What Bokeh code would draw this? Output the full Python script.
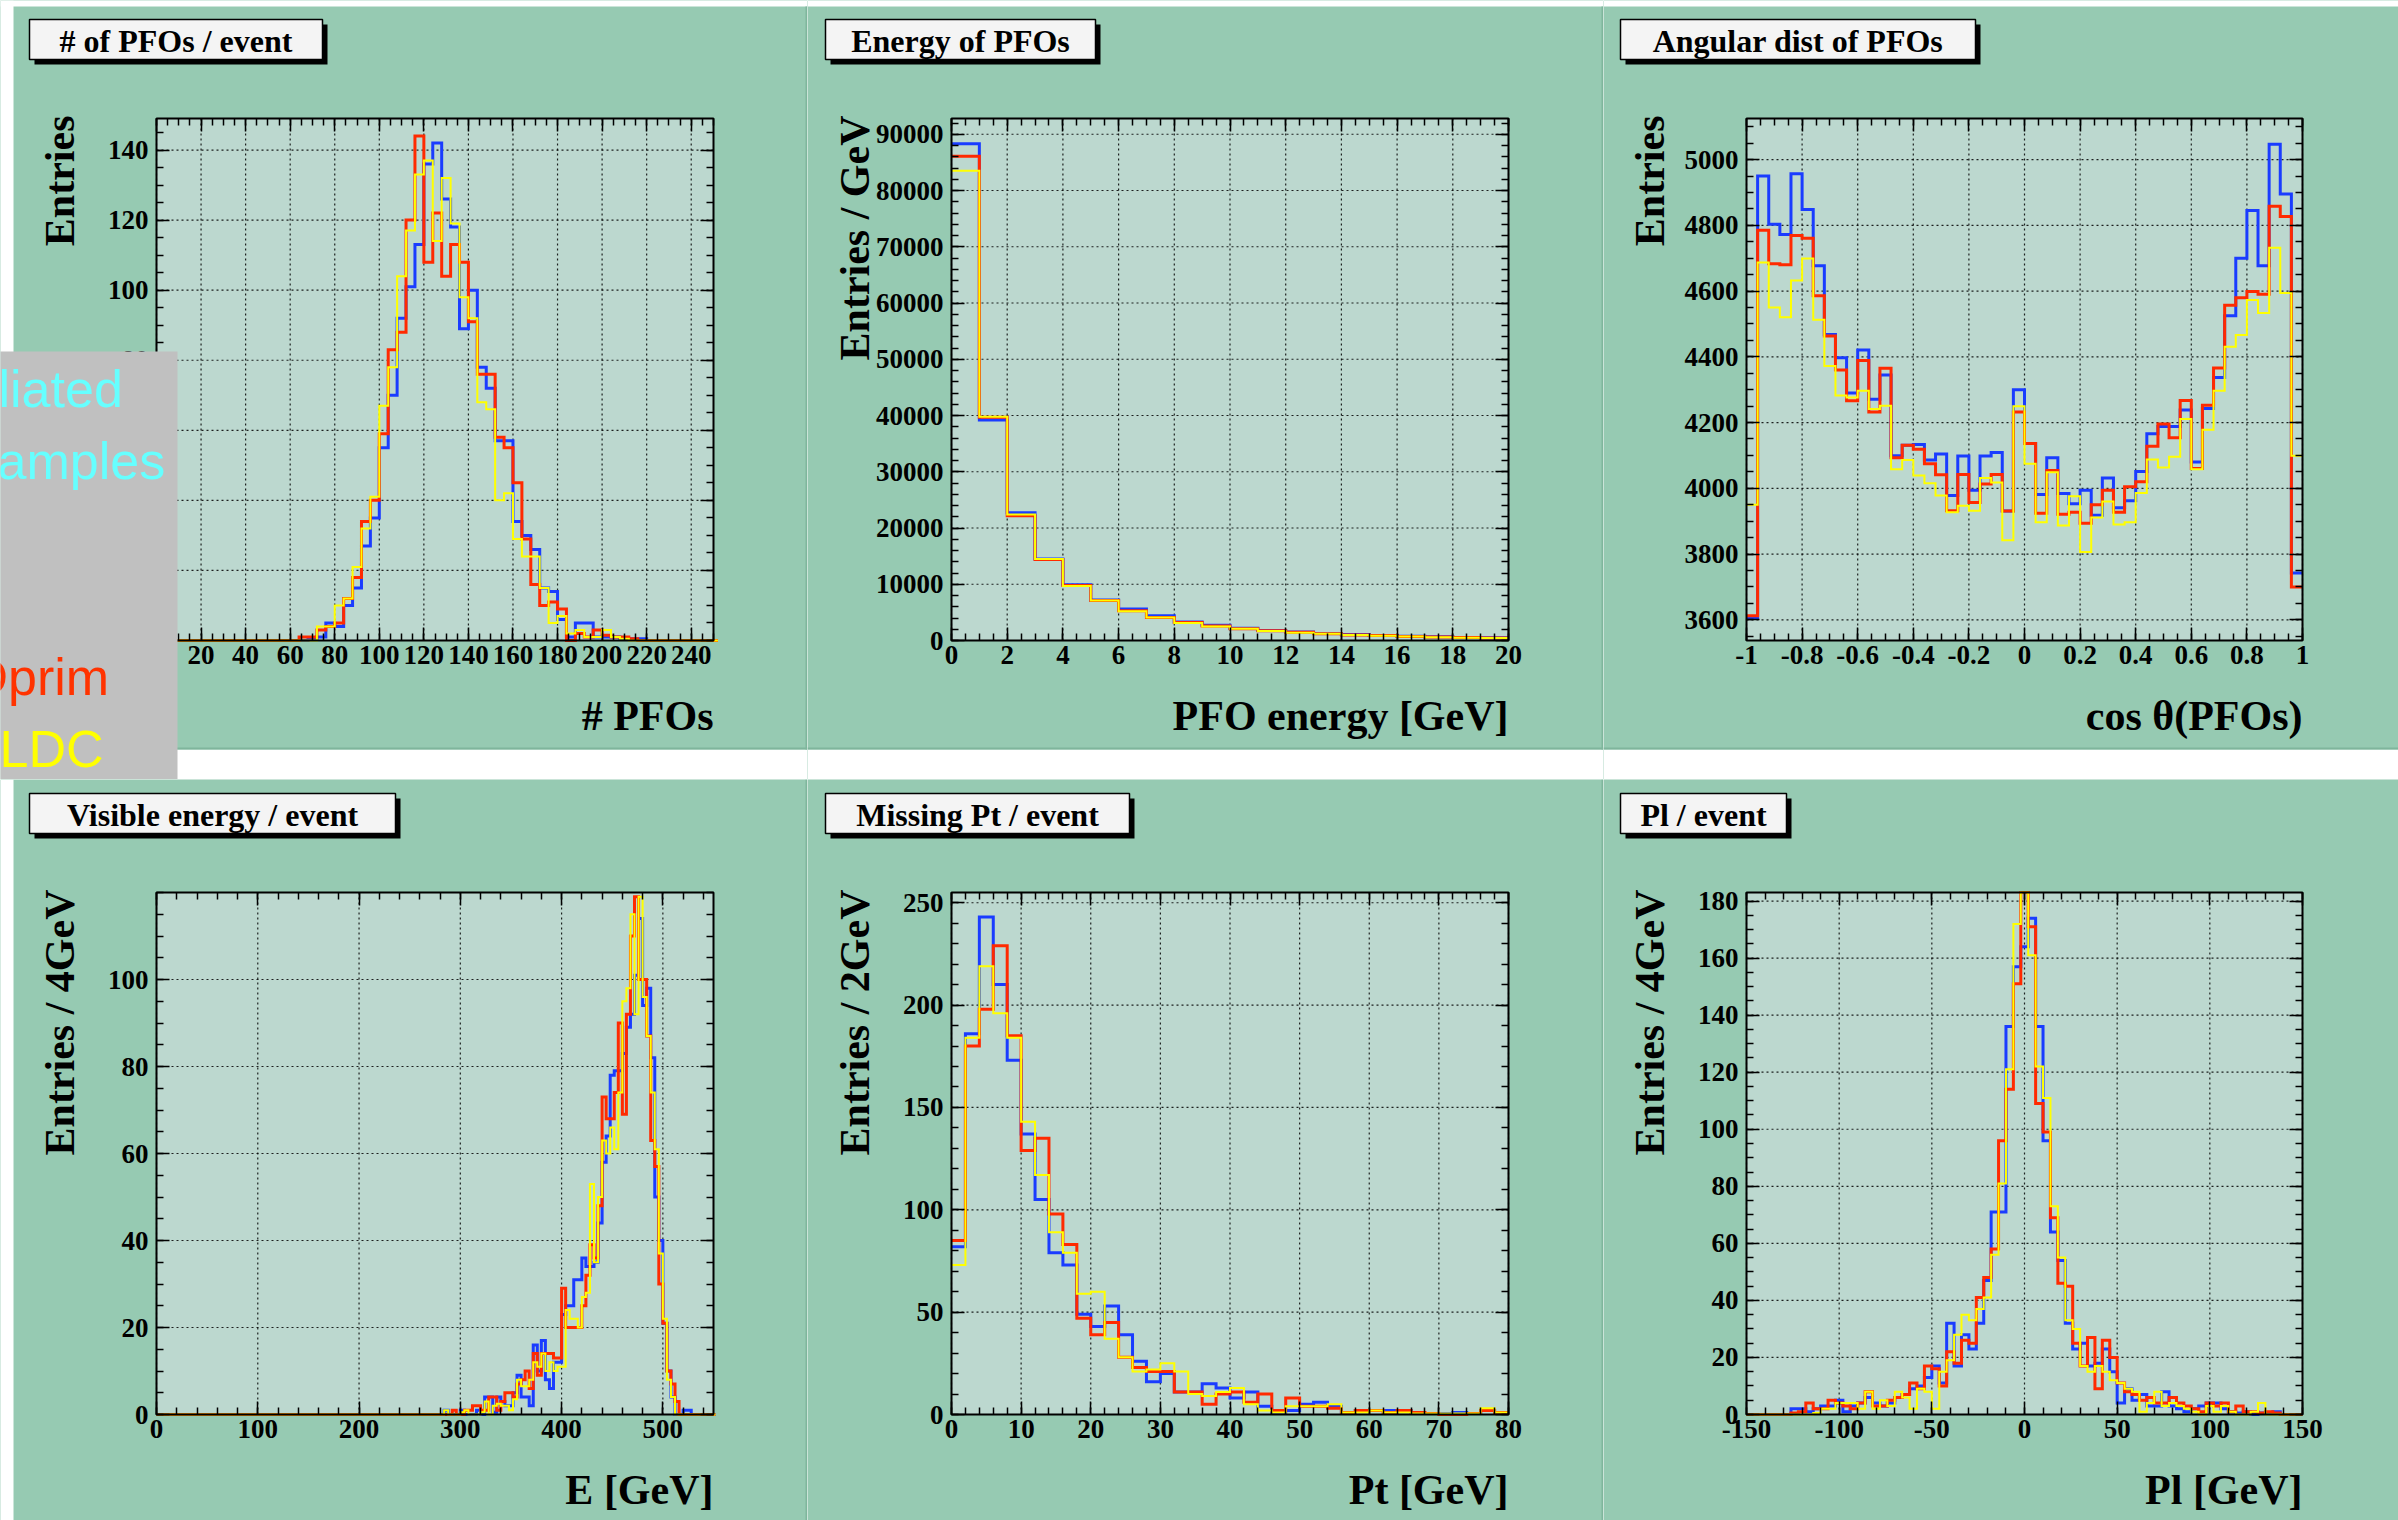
import numpy as np
from bokeh.plotting import figure
from bokeh.models import Range1d, LinearAxis, FixedTicker, PrintfTickFormatter, Label
from bokeh.layouts import row, column
from bokeh.embed import file_html
from bokeh.resources import INLINE

# ------------------------------------------------------------------ data
# 1) number of PFOs / event : bins of 4 starting at 0 (63 bins)
npfo_bin_width = 4
npfo_blue = [0]*16 + [0, 0.5, 1, 5, 4, 10, 15, 27, 35, 55, 70, 92, 101, 113, 136, 142, 126, 118, 89, 100,
                      78, 72, 57, 57, 34, 30, 26, 15, 14, 6, 1, 5, 5, 1, 1, 1, 0.5, 0.5, 0.5] + [0]*8
npfo_red = [0]*16 + [1, 1, 3, 4, 5, 12, 18, 34, 40, 59, 83, 88, 120, 144, 108, 122, 104, 113, 108, 91,
                     76, 76, 58, 55, 45, 29, 16, 10, 11, 9, 0, 2, 1, 3, 1.5, 1, 1, 0.5, 0] + [0]*8
npfo_yellow = [0]*16 + [0, 0, 4, 4, 10, 12, 21, 32, 41, 67, 78, 104, 117, 133, 137, 114, 132, 119, 98, 92,
                        68, 66, 40, 42, 29, 24, 24, 15, 5, 7, 2, 3, 1, 1, 3, 1, 0.5, 0, 0] + [0]*8

# 2) energy of PFOs : bins of 1 GeV from 0 to 20
epfo_blue = [88300, 39200, 22700, 14500, 9900, 7200, 5600, 4400, 3300, 2700,
             2200, 1800, 1500, 1250, 1050, 900, 750, 650, 550, 480]
epfo_red = [86100, 39700, 22200, 14400, 9800, 7100, 5300, 4100, 3200, 2600,
            2100, 1750, 1450, 1200, 1000, 870, 720, 620, 530, 460]
epfo_yellow = [83500, 39800, 22400, 14500, 9700, 7100, 5200, 4100, 3100, 2500,
               2100, 1700, 1400, 1200, 1000, 850, 700, 600, 500, 450]

# 3) cos(theta) of PFOs : 50 bins from -1 to 1
cos_blue = [3604, 4950, 4803, 4772, 4957, 4848, 4677, 4468, 4397, 4290, 4421, 4271, 4345, 4099, 4131,
            4133, 4086, 4104, 3978, 4098, 3994, 4098, 4109, 3931, 4300, 4136, 3981, 4093, 3984, 3953,
            3994, 3918, 4031, 3941, 3962, 4051, 4166, 4188, 4188, 4238, 4080, 4243, 4337, 4525, 4700,
            4845, 4677, 5047, 4895, 3742]
cos_red = [3612, 4785, 4683, 4680, 4769, 4761, 4586, 4463, 4360, 4266, 4389, 4232, 4365, 4093, 4131,
           4119, 4075, 4041, 3932, 4042, 3957, 4013, 4042, 3931, 4232, 4136, 3924, 4054, 3921, 3927,
           3894, 3950, 3994, 3927, 4005, 4020, 4128, 4196, 4154, 4267, 4060, 4253, 4366, 4557, 4580,
           4599, 4590, 4858, 4827, 3700]
cos_yellow = [3950, 4687, 4550, 4520, 4632, 4699, 4513, 4372, 4282, 4276, 4297, 4241, 4251, 4058, 4086,
              4039, 4015, 3978, 3927, 3947, 3932, 4031, 4018, 3842, 4250, 4075, 3897, 4049, 3887, 3976,
              3806, 3911, 3960, 3890, 3897, 3986, 4088, 4063, 4096, 4211, 4058, 4178, 4297, 4431, 4466,
              4573, 4533, 4732, 4594, 4099]

# 4) visible energy / event : bins of 4 GeV, values listed from 280 GeV (all other bins empty)
evis_first_bin = 280
evis_blue = [0, 1, 0, 0, 0, 1, 0, 0, 0, 1, 0, 4, 4, 0.5, 4, 3, 2, 2, 5, 9, 4, 4, 2, 16, 10, 17, 8, 6, 12, 12,
             23, 25, 25, 31, 31, 36, 34, 34, 35, 44, 58, 64, 78, 79, 79, 83, 89, 92, 101, 114, 94, 98, 82,
             50, 40, 21, 10, 4, 0, 0, 1, 1]
evis_red = [0, 0, 0, 1, 0, 0, 1, 1, 2, 2, 1, 1, 4, 4, 1, 3, 5, 5, 4, 7, 8, 10, 6, 14, 9, 14, 14, 14, 13, 13,
            29, 20, 20, 20, 20, 25, 32, 39, 36, 48, 73, 68, 68, 74, 90, 69, 92, 110, 119, 100, 100, 87, 63,
            57, 30, 21, 10, 7, 3, 0, 0, 0]
evis_yellow = [0, 1, 0, 0, 0, 0.5, 1, 0, 0, 0, 0.5, 3, 0, 2, 2.5, 2, 2, 1, 3.5, 8, 6.5, 6.5, 8, 12, 11, 14, 10,
               12, 10, 11, 11, 24, 22, 22, 20, 27, 28, 53, 35, 50, 63, 60, 66, 61, 74, 95, 98, 115, 92, 119,
               96, 87, 74, 61, 37, 22, 8, 4, 0, 0, 0, 0]

# 5) missing Pt / event : bins of 2 GeV from 0 to 80
pt_blue = [82, 186, 243, 210, 173, 137, 105, 79, 73, 49, 43, 53, 39, 26, 16, 20, 11, 11, 15, 13,
           8, 11, 4, 1, 2, 5, 6, 4, 0.5, 2, 2, 2, 2, 0.5, 0.5, 0.5, 1, 0.5, 2, 0.5]
pt_red = [85, 180, 198, 229, 185, 129, 135, 98, 83, 47, 39, 45, 28, 23, 21, 21, 11, 11, 5, 10,
          11, 6, 10, 2, 8, 4, 4, 3, 1, 2, 2, 1, 2, 1, 0.5, 0, 0, 0.5, 2, 1]
pt_yellow = [73, 184, 219, 196, 184, 143, 117, 89, 79, 59, 60, 37, 28, 21, 22, 25, 21, 10, 9, 11,
             13, 5, 2, 1, 4, 4, 4, 5, 1, 1, 2, 1, 1, 0.5, 0.5, 0.5, 0.5, 0.5, 3, 1]

# 6) Pl / event : bins of 4 GeV from -150 to 150
pl_blue = [0, 0, 0, 0, 0, 0, 2, 2, 1, 2, 3, 3, 5, 1, 3, 4, 6, 4, 3, 4, 6, 7, 9, 10, 13, 17, 11, 32, 17, 28,
           23, 32, 47, 71, 71, 136, 157, 164, 174, 136, 96, 64, 54, 32, 23, 25, 17, 18, 23, 15, 4, 9, 5,
           7, 3, 3, 8, 3, 2, 1, 2, 3, 4, 4, 2, 1, 0.5, 1, 0, 0.5, 0.5, 1, 0, 0, 0]
pl_red = [0, 0, 0, 0, 0, 0, 0.5, 1, 4, 2, 2, 5, 4, 3, 2, 4, 8, 3, 3, 5, 6, 7, 11, 9, 17, 16, 10, 22, 18, 26,
          25, 41, 48, 58, 96, 114, 151, 195, 171, 109, 99, 69, 46, 45, 25, 17, 27, 9, 26, 20, 11, 8, 7,
          5, 6, 4, 4, 6, 4, 3, 2, 1, 4, 3, 4, 1, 3, 1, 1, 0.5, 1, 0.5, 0, 0, 0]
pl_yellow = [0, 0, 0, 0, 0, 0, 0, 0, 0, 0.5, 2, 2, 4, 4, 4, 2, 8, 2, 5, 3, 8, 6, 2, 9, 8, 2, 15, 19, 28,
             35, 33, 37, 41, 56, 81, 121, 172, 200, 161, 122, 111, 73, 55, 33, 30, 17, 15, 17, 15, 12,
             11, 9, 8, 1, 4, 8, 3, 4, 3, 2, 1, 0, 3, 1, 3, 1, 0, 0, 1, 4, 0, 0, 0, 0, 0]

# tick labels (major) per panel
npfo_xticks = list(range(0, 241, 20)); npfo_yticks = list(range(0, 141, 20))
epfo_xticks = list(range(0, 21, 2));   epfo_yticks = list(range(0, 90001, 10000))
cos_xticks = [round(v, 2) for v in np.arange(-1.0, 1.001, 0.2)]; cos_yticks = list(range(3600, 5001, 200))
evis_xticks = list(range(0, 501, 100)); evis_yticks = list(range(0, 101, 20))
pt_xticks = list(range(0, 81, 10));    pt_yticks = list(range(0, 251, 50))
pl_xticks = list(range(-150, 151, 50)); pl_yticks = list(range(0, 181, 20))

titles = ["# of PFOs / event", "Energy of PFOs", "Angular dist of PFOs",
          "Visible energy / event", "Missing Pt / event", "Pl / event"]
xtitles = ["# PFOs", "PFO energy [GeV]", "cos \u03b8(PFOs)", "E [GeV]", "Pt [GeV]", "Pl [GeV]"]
ytitles = ["Entries", "Entries / GeV", "Entries", "Entries / 4GeV", "Entries / 2GeV", "Entries / 4GeV"]
legend_lines = [("liated", "#66ffff"), ("amples", "#66ffff"),
                ("Dprim", "#ff3300"), ("LDC", "#ffff00")]

# ------------------------------------------------------------------ style
BLUE, RED, YELLOW = "#1a3cff", "#ff2a00", "#ffff00"
PANEL_BG, FRAME_BG = "#96cab2", "#bcd8cf"
EDGE = "#7fb59c"
SERIF = "Liberation Serif"


def padded(nbins, first_index, vals):
    arr = np.zeros(nbins)
    arr[first_index:first_index + len(vals)] = vals
    return arr


def minor_range(lo, hi, step):
    n = int(round((hi - lo) / step))
    return [round(lo + i * step, 4) for i in range(n + 1)]


def style_axis(ax, labels):
    ax.axis_line_color = None
    ax.major_tick_in, ax.major_tick_out = 13, 0
    ax.minor_tick_in, ax.minor_tick_out = 7, 0
    ax.major_tick_line_color = "black"
    ax.minor_tick_line_color = "black"
    ax.major_tick_line_width = 1.5
    ax.minor_tick_line_width = 1.5
    ax.major_label_text_font = SERIF
    ax.major_label_text_font_style = "bold"
    ax.major_label_text_font_size = "27px"
    ax.major_label_text_color = "black" if labels else None
    ax.formatter = PrintfTickFormatter(format="%g" if labels else "")


def make_panel(W, H, frame, xr, yr, xmaj, xminor, ymaj, yminor, edges, series,
               title, tbox, xtitle, ytitle, strips):
    fl, ft, fw, fh = frame
    fb = ft + fh
    x0, x1 = xr
    y0, y1 = yr
    # the whole panel is the drawing frame, in pixel units (y downwards)
    p = figure(width=W, height=H, x_range=Range1d(0, W), y_range=Range1d(H, 0),
               x_axis_location=None, y_axis_location=None, output_backend="svg",
               toolbar_location=None, title=None, min_border=0)
    p.outline_line_color = None
    p.background_fill_color = PANEL_BG
    p.border_fill_color = PANEL_BG
    p.grid.visible = False

    # data scales of the histogram area (mapped onto the plot-frame rectangle)
    kx = (x1 - x0) / fw
    ky = (y1 - y0) / fh
    p.extra_x_ranges = {"hx": Range1d(x0 - fl * kx, x0 + (W - fl) * kx)}
    p.extra_y_ranges = {"hy": Range1d(y0 - (H - fb) * ky, y1 + ft * ky)}
    D = dict(x_range_name="hx", y_range_name="hy")

    for sx0, sy0, sx1, sy1, c in strips:
        p.quad(left=sx0, right=sx1, top=sy0, bottom=sy1, fill_color=c, line_color=None)

    # plot area
    p.quad(left=x0, right=x1, bottom=y0, top=y1, fill_color=FRAME_BG, line_color=None, **D)
    # dotted grid
    p.segment(x0=xmaj, x1=xmaj, y0=[y0] * len(xmaj), y1=[y1] * len(xmaj),
              line_color="black", line_dash="2 3", line_width=1.2, line_alpha=0.85, **D)
    p.segment(x0=[x0] * len(ymaj), x1=[x1] * len(ymaj), y0=ymaj, y1=ymaj,
              line_color="black", line_dash="2 3", line_width=1.2, line_alpha=0.85, **D)

    for vals, color, lw in series:
        v = np.clip(np.asarray(vals, dtype=float), y0, y1)
        yv = np.append(v, v[-1])
        p.step(x=edges, y=yv, mode="after", line_color=color, line_width=lw,
               line_join="miter", **D)

    # frame border
    p.quad(left=x0, right=x1, bottom=y0, top=y1, fill_color=None, line_color="black",
           line_width=2, **D)

    # axes on the four sides of the plot area (inward ticks)
    xt = FixedTicker(ticks=xmaj, minor_ticks=xminor)
    yt = FixedTicker(ticks=ymaj, minor_ticks=yminor)
    ax_b = LinearAxis(ticker=xt, fixed_location=y0, bounds=(x0, x1), **D)
    ax_t = LinearAxis(ticker=xt, fixed_location=y1, bounds=(x0, x1), **D)
    ax_l = LinearAxis(ticker=yt, fixed_location=x0, bounds=(y0, y1), **D)
    ax_r = LinearAxis(ticker=yt, fixed_location=x1, bounds=(y0, y1), **D)
    for ax, lab in ((ax_b, True), (ax_t, False), (ax_l, True), (ax_r, False)):
        style_axis(ax, lab)
    ax_b.major_label_standoff = 5
    ax_l.major_label_standoff = 8
    p.add_layout(ax_b, "below")
    p.add_layout(ax_t, "above")
    p.add_layout(ax_l, "left")
    p.add_layout(ax_r, "right")

    # title box with shadow
    bx0, by0, bx1, by1 = tbox
    p.quad(left=bx0 + 5, right=bx1 + 5, top=by0 + 5, bottom=by1 + 5, fill_color="black", line_color=None)
    p.quad(left=bx0, right=bx1, top=by0, bottom=by1, fill_color="#f4f4f4", line_color="black",
           line_width=1.5)
    p.add_layout(Label(x=(bx0 + bx1) / 2, y=(by0 + by1) / 2 + 1, text=title, text_font=SERIF,
                       text_font_style="bold", text_font_size="32px", text_align="center",
                       text_baseline="middle", text_color="black"))
    # axis titles
    p.add_layout(Label(x=fl + fw, y=fb + 75, text=xtitle, text_font=SERIF, text_font_style="bold",
                       text_font_size="42px", text_align="right", text_baseline="middle",
                       text_color="black"))
    p.add_layout(Label(x=fl - 97, y=ft - 3, text=ytitle, text_font=SERIF, text_font_style="bold",
                       text_font_size="42px", text_align="right", text_baseline="middle",
                       angle=90, angle_units="deg", text_color="black"))
    return p


TOP_H, BOT_H = 779, 741
COL_W = [807, 796, 795]
FL = [156, 144, 143]
FW = [557, 557, 556]
FT_TOP, FT_BOT, FH = 118, 113, 522

strips_top = [
    [(0, 0, 13, TOP_H, "white"), (0, 0, COL_W[0], 6, "white"), (0, 749, COL_W[0], TOP_H, "white"),
     (COL_W[0] - 2, 6, COL_W[0], 749, EDGE), (13, 747, COL_W[0], 749, EDGE)],
    [(0, 0, COL_W[1], 6, "white"), (0, 749, COL_W[1], TOP_H, "white"),
     (COL_W[1] - 2, 6, COL_W[1], 749, EDGE), (0, 747, COL_W[1], 749, EDGE)],
    [(0, 0, COL_W[2], 6, "white"), (0, 749, COL_W[2], TOP_H, "white"), (0, 747, COL_W[2], 749, EDGE)],
]
strips_bot = [
    [(0, 0, 13, BOT_H, "white"), (COL_W[0] - 2, 0, COL_W[0], BOT_H, EDGE)],
    [(COL_W[1] - 2, 0, COL_W[1], BOT_H, EDGE)],
    [],
]
tboxes_top = [(29, 19, 322, 59), (18, 19, 288, 59), (17, 19, 372, 59)]
tboxes_bot = [(29, 14, 395, 54), (18, 14, 322, 54), (17, 14, 183, 54)]

n1 = len(npfo_blue)
p1 = make_panel(
    COL_W[0], TOP_H, (FL[0], FT_TOP, FW[0], FH), (0, 250), (0, 149),
    npfo_xticks, minor_range(0, 250, 5), npfo_yticks, minor_range(0, 145, 5),
    np.arange(0, npfo_bin_width * n1 + 1, npfo_bin_width),
    [(npfo_blue, BLUE, 3), (npfo_red, RED, 3), (npfo_yellow, YELLOW, 2)],
    titles[0], tboxes_top[0], xtitles[0], ytitles[0], strips_top[0])

p2 = make_panel(
    COL_W[1], TOP_H, (FL[1], FT_TOP, FW[1], FH), (0, 20), (0, 92800),
    epfo_xticks, minor_range(0, 20, 0.5), epfo_yticks, minor_range(0, 92000, 2000),
    np.arange(0, 21, 1),
    [(epfo_blue, BLUE, 3), (epfo_red, RED, 3), (epfo_yellow, YELLOW, 2)],
    titles[1], tboxes_top[1], xtitles[1], ytitles[1], strips_top[1])

p3 = make_panel(
    COL_W[2], TOP_H, (FL[2], FT_TOP, FW[2], FH), (-1, 1), (3537, 5125),
    cos_xticks, minor_range(-1, 1, 0.05), cos_yticks, minor_range(3550, 5100, 50),
    np.linspace(-1, 1, len(cos_blue) + 1),
    [(cos_blue, BLUE, 3), (cos_red, RED, 3), (cos_yellow, YELLOW, 2)],
    titles[2], tboxes_top[2], xtitles[2], ytitles[2], strips_top[2])

evis_edges = np.arange(0, 553, 4)
nb4 = len(evis_edges) - 1
i4 = evis_first_bin // 4
p4 = make_panel(
    COL_W[0], BOT_H, (FL[0], FT_BOT, FW[0], FH), (0, 550), (0, 120),
    evis_xticks, minor_range(0, 540, 20), evis_yticks, minor_range(0, 120, 5),
    evis_edges,
    [(padded(nb4, i4, evis_blue), BLUE, 3), (padded(nb4, i4, evis_red), RED, 3),
     (padded(nb4, i4, evis_yellow), YELLOW, 2)],
    titles[3], tboxes_bot[0], xtitles[3], ytitles[3], strips_bot[0])

p5 = make_panel(
    COL_W[1], BOT_H, (FL[1], FT_BOT, FW[1], FH), (0, 80), (0, 255),
    pt_xticks, minor_range(0, 80, 2), pt_yticks, minor_range(0, 250, 10),
    np.arange(0, 81, 2),
    [(pt_blue, BLUE, 3), (pt_red, RED, 3), (pt_yellow, YELLOW, 2)],
    titles[4], tboxes_bot[1], xtitles[4], ytitles[4], strips_bot[1])

p6 = make_panel(
    COL_W[2], BOT_H, (FL[2], FT_BOT, FW[2], FH), (-150, 150), (0, 183),
    pl_xticks, minor_range(-150, 150, 10), pl_yticks, minor_range(0, 180, 5),
    np.arange(-150, 151, 4),
    [(pl_blue, BLUE, 3), (pl_red, RED, 3), (pl_yellow, YELLOW, 2)],
    titles[5], tboxes_bot[2], xtitles[5], ytitles[5], strips_bot[2])

# grey legend overlay (partially off-screen) on the first panel
box = p1.quad(left=0, right=177, top=351, bottom=TOP_H, fill_color="#c0c0c0", line_color=None)
box.level = "overlay"
legend_pos = [(-2, 388), (-3, 460), (-30, 676), (-1, 748)]
for (txt, col), (X, Y) in zip(legend_lines, legend_pos):
    p1.add_layout(Label(x=X, y=Y, text=txt, text_font="Liberation Sans", text_font_size="52px",
                        text_color=col, text_align="left", text_baseline="alphabetic",
                        level="overlay"))

layout = column(row(p1, p2, p3), row(p4, p5, p6))
open("out.html", "w").write(file_html(layout, INLINE, "PFO distributions"))
